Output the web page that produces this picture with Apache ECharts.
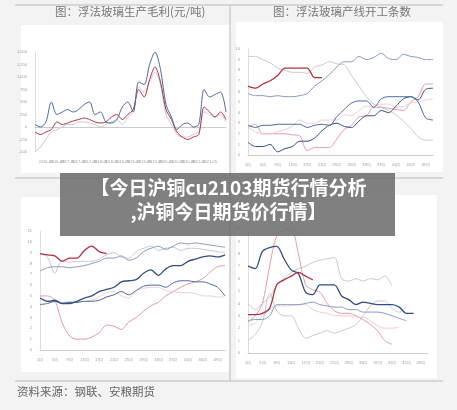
<!DOCTYPE html>
<html><head><meta charset="utf-8">
<script src="https://cdn.jsdelivr.net/npm/echarts@6/dist/echarts.min.js"></script>
<style>html,body{margin:0;background:#f3f3f3}#c{width:457px;height:410px}</style>
</head><body><div id="c"></div><script>
const tlDates=['2016-01','2016-03','2016-05','2016-07','2016-09','2016-11','2017-01','2017-03','2017-05','2017-07','2017-09','2017-11','2018-01','2018-03','2018-05','2018-07','2018-09','2018-11','2019-01','2019-03','2019-05','2019-07','2019-09','2019-11','2020-01','2020-03','2020-05','2020-07','2020-09','2020-11','2021-01','2021-03','2021-05','2021-07','2021-09','2021-11'];
const tlRed=[-100,-150,-100,-50,100,50,80,120,150,180,150,100,80,100,200,250,150,250,350,750,600,950,1200,900,350,150,-100,-200,-250,-200,-150,400,300,200,300,150];
const tlBlue=[50,0,100,500,250,300,350,300,350,450,500,250,300,100,80,150,400,500,300,900,850,1250,1500,1150,450,200,-50,50,80,0,50,750,600,650,700,300];
const tlGray=[-500,-400,-250,-100,-50,0,50,50,100,100,80,50,0,50,100,150,50,200,300,800,700,900,1100,850,250,50,-150,-200,-200,-150,-100,300,250,200,250,100];
const weeks=Array.from({length:26},(_,i)=>(i*2+1)+'周');
const trRed=[6.5,6.3,6.7,7.0,7.5,8.2,8.2,8.2,8.2,7.3,7.3];
const trMid=[5.8,5.6,5.6,5.5,5.6,5.5,5.5,5.6,5.8,6.5,7.0,7.6,8.3,8.8,8.8,9.3,9.0,9.2,9.6,9.1,9.0,9.5,9.3,9.2,9.0,9.0];
const trGray=[9.3,9.3,9.0,8.7,8.2,8.0,7.8,7.8,7.7,8.3,8.5,8.8,8.6,8.5,7.5,6.5,5.5,4.8,4.5,4.2,3.8,3.2,2.5,1.7,1.4,1.4];
const trPink=[2.6,2.9,2.0,2.0,2.0,2.0,1.9,1.8,0.4,0.7,0.7,0.7,1.5,2.4,2.8,3.6,3.7,4.5,4.5,4.4,4.3,4.2,5.0,5.5,6.7,6.7];
const trLPink=[2.6,2.2,2.0,2.0,2.2,2.4,2.7,3.3,3.0,3.0,3.3,3.3,3.3,3.8,3.7,4.2,4.6,4.6,4.8,4.8,4.5,4.6,4.9,5.0,5.2,5.3];
const trNavy=[1.2,0.8,0.8,1.0,0.3,0.6,0.8,1.3,1.3,1.6,2.3,2.8,3.0,2.7,2.6,3.2,3.7,3.7,4.2,4.0,4.6,5.3,5.5,5.2,6.2,6.3];
const trBlue=[2.8,2.6,2.8,2.8,2.9,2.9,2.9,2.9,2.6,2.8,2.9,2.8,3.6,4.3,4.9,5.1,5.1,4.5,5.3,5.5,5.5,5.5,5.5,5.0,3.5,3.3];
const blRed=[8.9,8.8,8.7,8.2,8.5,8.5,9.2,9.6,9.1,8.9];
const blGray=[8.9,8.6,7.1,8.3,8.1,8.2,8.2,8.2,8.4,8.8,9.0,8.6,8.5,9.1,9.4,9.6,9.2,9.4,9.5,9.2,9.4,9.4,9.3,9.2,9.1,9.0];
const blMid=[7.3,7.6,7.7,7.7,7.6,7.7,7.8,8.0,8.2,8.5,8.5,8.7,8.3,8.5,9.1,9.4,9.6,9.3,9.6,9.9,9.8,9.9,9.8,9.7,9.6,9.5];
const blNavy=[4.8,4.5,4.6,4.3,4.3,4.5,4.8,5.0,5.4,5.6,5.8,6.3,6.4,6.5,7.1,7.4,6.9,7.5,7.8,7.8,8.2,8.4,8.6,8.7,8.6,8.8];
const blBlue=[4.2,4.3,4.5,4.3,4.4,4.4,4.5,4.5,4.6,4.9,5.1,5.4,5.1,5.5,5.9,6.0,6.0,5.8,6.2,6.4,6.4,6.3,6.3,6.1,5.8,5.0];
const blPink=[5.0,5.0,4.6,2.5,1.3,1.0,1.0,1.2,1.6,2.3,2.2,1.9,2.6,3.0,3.6,4.1,4.4,5.0,5.4,5.8,6.1,6.3,6.6,7.2,7.7,7.8];
const blLPink=[4.8,4.6,4.4,4.4,4.5,4.5,4.5,4.6,4.9,5.3,5.4,5.0,4.8,5.5,5.7,5.8,5.8,5.5,5.4,5.3,5.3,5.2,5.0,5.0,4.9,4.9];
const brRed=[3.1,3.1,3.2,3.6,5.5,5.9,6.2,6.5,6.2,5.9];
const brNavy=[7.0,6.8,8.2,8.5,8.6,7.6,6.7,6.4,4.9,4.7,5.5,5.5,5.5,4.6,4.3,3.9,4.1,4.0,3.9,3.9,3.9,3.7,3.2,3.2];
const brPink=[2.5,3.0,4.0,7.0,9.5,9.9,10.0,8.0,5.5,5.1,4.9,4.0,3.4,3.2,3.2,3.0,2.7,2.3,1.8,1.0,0.7];
const brGray=[4.0,3.5,4.0,4.5,5.5,6.0,6.5,6.8,7.0,7.3,7.5,7.6,7.7,6.0,5.8,6.0,5.8,6.0,5.9,6.2,5.4];
const brLow=[1.0,1.5,2.5,4.8,3.4,3.0,3.0,2.0,1.2,1.4,1.6,1.8,1.6,1.8,2.0,2.3,3.0,3.8,4.2,4.2,3.6,3.3,3.7];
const brMid=[2.6,2.7,2.7,3.0,3.9,3.9,3.9,3.9,4.0,4.1,3.9,3.8,3.7,3.7,3.5,3.5,3.3,3.3,3.3,3.2,3.0,2.8,2.6];
const brLPink=[2.2,2.4,3.0,3.5,3.8,3.8,3.8,3.9,3.9,3.5,3.3,3.2,3.0,3.0,3.0,2.9,2.9,2.6,2.2,2.0,2.0,2.1];

const C={red:'#b5303f',navy:'#2f4f86',mid:'#8a9cc0',gray:'#c9c9d2',pink:'#e79aa6',lpink:'#f1cfd6',blue:'#4a6aa0'};
const lab={fontSize:4,color:'#999'};
const xa=(i,d)=>({type:'category',gridIndex:i,data:d,boundaryGap:false,axisLabel:{...lab,interval:1},axisTick:{show:false},axisLine:{lineStyle:{color:'#ccc'}}});
const ya=(i,min,max,iv)=>({type:'value',gridIndex:i,min,max,interval:iv,axisLabel:lab,splitLine:{show:false},axisLine:{show:true,lineStyle:{color:'#ddd'}}});
const s=(i,d,c,w)=>({type:'line',xAxisIndex:i,yAxisIndex:i,data:d,symbol:'none',lineStyle:{color:c,width:w||1},smooth:0.3});
const txt=(x,y,t,sz,c)=>({type:'text',left:x,top:y,style:{text:t,fill:c,font:sz+'px "Noto Sans CJK SC"'},z:10});
const chart=echarts.init(document.getElementById('c'));
chart.setOption({
 animation:false,backgroundColor:'#f3f3f3',
 grid:[{left:35,top:52,width:191,height:100},{left:248,top:49,width:185,height:106},{left:40,top:231,width:185,height:119},{left:248,top:229,width:180,height:124}],
 xAxis:[xa(0,tlDates),xa(1,weeks),xa(2,weeks),xa(3,weeks)],
 yAxis:[ya(0,-500,1500,250),ya(1,0,10,1),ya(2,0,11,1),ya(3,0,10,1)],
 series:[s(0,tlGray,C.gray),s(0,tlRed,C.red),s(0,tlBlue,C.blue),
  s(1,trGray,C.gray),s(1,trMid,C.mid),s(1,trPink,C.pink),s(1,trLPink,C.lpink),s(1,trNavy,C.navy),s(1,trBlue,C.blue),s(1,trRed,C.red,1.3),
  s(2,blGray,C.gray),s(2,blMid,C.mid),s(2,blPink,C.pink),s(2,blLPink,C.lpink),s(2,blBlue,C.blue),s(2,blNavy,C.navy,1.3),s(2,blRed,C.red,1.3),
  s(3,brGray,C.gray),s(3,brLow,C.gray),s(3,brPink,C.pink),s(3,brLPink,C.lpink),s(3,brMid,C.mid),s(3,brNavy,C.navy,1.3),s(3,brRed,C.red,1.3)],
 graphic:[
  {type:'rect',shape:{x:21,y:25,width:209,height:148},style:{fill:'#fff'},z:-10},
  {type:'rect',shape:{x:236,y:22,width:207,height:150},style:{fill:'#fff'},z:-10},
  {type:'rect',shape:{x:21,y:197,width:208,height:175},style:{fill:'#fff'},z:-10},
  {type:'rect',shape:{x:236,y:195,width:201,height:183},style:{fill:'#fff'},z:-10},
  {type:'line',shape:{x1:15,y1:5,x2:443,y2:5},style:{stroke:'#bbb',lineWidth:1},z:-5},
  {type:'line',shape:{x1:15,y1:381,x2:443,y2:381},style:{stroke:'#bbb',lineWidth:1},z:-5},
  {type:'line',shape:{x1:15,y1:178,x2:443,y2:178},style:{stroke:'#bbb',lineWidth:1},z:-5},
  {type:'line',shape:{x1:230,y1:5,x2:230,y2:381},style:{stroke:'#bbb',lineWidth:1},z:-5},
  txt(55,6,'图：浮法玻璃生产毛利(元/吨)',11.5,'#777'),
  txt(273,6,'图：浮法玻璃产线开工条数',11.5,'#777'),
  txt(17,386,'资料来源：钢联、安粮期货',11.5,'#666'),
  {type:'rect',shape:{x:60,y:173,width:335,height:63},style:{fill:'rgba(110,110,110,0.88)'},z:20},
  {type:'text',left:'center',top:178,style:{text:'【今日沪铜cu2103期货行情分析',fill:'#fff',font:'bold 19px "Noto Sans CJK SC"'},z:21},
  {type:'text',left:'center',top:202,style:{text:',沪铜今日期货价行情】',fill:'#fff',font:'bold 19px "Noto Sans CJK SC"'},z:21}
 ]
});
</script></body></html>
